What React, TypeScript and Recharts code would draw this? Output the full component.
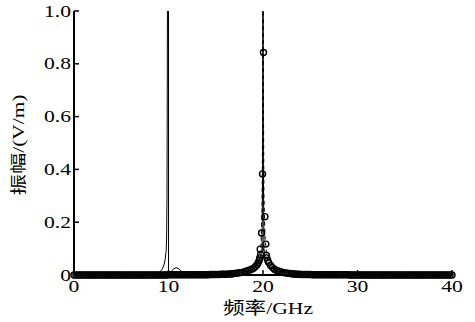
import { ComposedChart, Label, Line, Scatter, XAxis, YAxis } from "recharts";

const SERIF = "'Liberation Serif', 'Times New Roman', serif";
const CJK = "'Liberation Serif', 'Noto Sans CJK SC', serif";

const xTicks = [0, 10, 20, 30, 40];
const yTicks = [0, 0.2, 0.4, 0.6, 0.8, 1.0];
const xTitle = "频率/GHz";
const yTitle = "振幅/(V/m)";

// solid curve: resonance near 10 GHz (and a narrow one at 20)
const solidFreq = [
  0, 2, 4, 6, 8, 8.6, 9.0, 9.3, 9.5, 9.65, 9.75, 9.8, 9.84, 9.87, 9.9, 10.0, 10.0, 10.2, 10.5,
  10.8, 11.1, 11.4, 11.7, 12.5, 14, 16, 17.5, 18.5, 19.3, 19.7, 19.9, 19.96, 20.0, 20.04, 20.1,
  20.3, 20.7, 21.5, 22.5, 24, 27, 30, 35, 40,
];
const solidAmp = [
  0, 0, 0, 0, 0.001, 0.004, 0.01, 0.02, 0.035, 0.06, 0.09, 0.14, 0.3, 0.7, 1.2, 1.2, 0.004, 0.008,
  0.022, 0.028, 0.024, 0.012, 0.005, 0.004, 0.004, 0.005, 0.008, 0.015, 0.03, 0.06, 0.1, 0.4, 1.2,
  0.4, 0.1, 0.05, 0.03, 0.015, 0.008, 0.005, 0.003, 0.002, 0.001, 0,
];

// dashed curve: resonance at 20 GHz
const dashFreq = [
  0, 5, 10, 14, 16, 17.5, 18.5, 19.2, 19.6, 19.8, 19.9, 19.96, 20.0, 20.04, 20.1, 20.2, 20.4,
  20.8, 21.5, 22.5, 24, 27, 30, 35, 40,
];
const dashAmp = [
  0, 0.001, 0.002, 0.003, 0.005, 0.009, 0.016, 0.03, 0.06, 0.12, 0.25, 0.6, 1.2, 0.7, 0.3, 0.15,
  0.07, 0.035, 0.018, 0.01, 0.005, 0.003, 0.002, 0.001, 0,
];

// circle markers
const circleFreq = [
  0, 0.2, 0.4, 0.6, 0.8, 1, 1.2, 1.4, 1.6, 1.8,
  2, 2.2, 2.4, 2.6, 2.8, 3, 3.2, 3.4, 3.6, 3.8,
  4, 4.2, 4.4, 4.6, 4.8, 5, 5.2, 5.4, 5.6, 5.8,
  6, 6.2, 6.4, 6.6, 6.8, 7, 7.2, 7.4, 7.6, 7.8,
  8, 8.2, 8.4, 8.6, 8.8, 9, 9.2, 9.4, 9.6, 9.8,
  10, 10.2, 10.4, 10.6, 10.8, 11, 11.2, 11.4, 11.6, 11.8,
  12, 12.2, 12.4, 12.6, 12.8, 13, 13.2, 13.4, 13.6, 13.8,
  14, 14.2, 14.4, 14.6, 14.8, 15, 15.2, 15.4, 15.6, 15.8,
  16, 16.2, 16.4, 16.6, 16.8, 17, 17.2, 17.4, 17.6, 17.8,
  18, 18.2, 18.4, 18.6, 18.8, 19, 19.2, 19.4, 19.5, 19.6,
  19.65, 19.7, 19.75, 19.85, 19.95, 20.05, 20.2, 20.3, 20.35, 20.4,
  20.5, 20.6, 20.8, 21, 21.2, 21.4, 21.6, 21.8, 22, 22.2,
  22.4, 22.6, 22.8, 23, 23.2, 23.4, 23.6, 23.8, 24, 24.2,
  24.4, 24.6, 24.8, 25, 25.2, 25.4, 25.6, 25.8, 26, 26.2,
  26.4, 26.6, 26.8, 27, 27.2, 27.4, 27.6, 27.8, 28, 28.2,
  28.4, 28.6, 28.8, 29, 29.2, 29.4, 29.6, 29.8, 30, 30.2,
  30.4, 30.6, 30.8, 31, 31.2, 31.4, 31.6, 31.8, 32, 32.2,
  32.4, 32.6, 32.8, 33, 33.2, 33.4, 33.6, 33.8, 34, 34.2,
  34.4, 34.6, 34.8, 35, 35.2, 35.4, 35.6, 35.8, 36, 36.2,
  36.4, 36.6, 36.8, 37, 37.2, 37.4, 37.6, 37.8, 38, 38.2,
  38.4, 38.6, 38.8, 39, 39.2, 39.4, 39.6, 39.8, 40,
];
const circleAmp = [
  0, 0, 0, 0, 0, 0, 0, 0, 0, 0,
  0, 0, 0, 0, 0, 0, 0, 0, 0, 0,
  0, 0, 0, 0, 0, 0, 0, 0, 0, 0,
  0, 0, 0, 0, 0, 0, 0, 0, 0, 0,
  0, 0, 0, 0, 0, 0, 0, 0, 0, 0,
  0.001, 0.001, 0.001, 0.001, 0.001, 0.001, 0.001, 0.001, 0.001, 0.001,
  0.001, 0.001, 0.001, 0.001, 0.001, 0.001, 0.001, 0.001, 0.001, 0.001,
  0.001, 0.001, 0.002, 0.002, 0.002, 0.002, 0.002, 0.002, 0.003, 0.003,
  0.003, 0.003, 0.004, 0.004, 0.005, 0.006, 0.007, 0.008, 0.009, 0.01,
  0.012, 0.014, 0.016, 0.019, 0.022, 0.026, 0.032, 0.04, 0.047, 0.055,
  0.065, 0.098, 0.078, 0.159, 0.383, 0.843, 0.221, 0.117, 0.075, 0.065,
  0.055, 0.047, 0.036, 0.028, 0.022, 0.018, 0.015, 0.013, 0.011, 0.009,
  0.008, 0.007, 0.006, 0.005, 0.004, 0.004, 0.003, 0.003, 0.002, 0.002,
  0.002, 0.002, 0.002, 0.002, 0.001, 0.001, 0.001, 0.001, 0.001, 0.001,
  0.001, 0.001, 0.001, 0.001, 0.001, 0.001, 0.001, 0.001, 0.001, 0.001,
  0.001, 0.001, 0.001, 0.001, 0, 0, 0, 0, 0, 0,
  0, 0, 0, 0, 0, 0, 0, 0, 0, 0,
  0, 0, 0, 0, 0, 0, 0, 0, 0, 0,
  0, 0, 0, 0, 0, 0, 0, 0, 0, 0,
  0, 0, 0, 0, 0, 0, 0, 0, 0, 0,
  0, 0, 0, 0, 0, 0, 0, 0, 0,
];

const toPoints = (f: number[], a: number[]) => f.map((v, i) => ({ f: v, a: a[i] }));

const solidData = toPoints(solidFreq, solidAmp);
const dashData = toPoints(dashFreq, dashAmp);
const circleData = toPoints(circleFreq, circleAmp);

const fmtY = (v: number) => (v === 0 ? "0" : v.toFixed(1));

function BottomTick({ x, y, payload }: any) {
  return (
    <g>
      <line x1={x} y1={y} x2={x} y2={y - 5} stroke="#000" strokeWidth={1.5} />
      <text
        transform={`translate(${x},${y + 11}) scale(1.35,1)`}
        textAnchor="middle"
        dy="0.35em"
        fontSize={16}
        fontFamily={SERIF}
        fill="#000"
      >
        {payload.value}
      </text>
    </g>
  );
}

function LeftTick({ x, y, payload }: any) {
  return (
    <g>
      <line x1={x} y1={y} x2={x + 5} y2={y} stroke="#000" strokeWidth={1.5} />
      <text
        transform={`translate(${x - 3},${y}) scale(1.35,1)`}
        textAnchor="end"
        dy="0.35em"
        fontSize={16}
        fontFamily={SERIF}
        fill="#000"
      >
        {fmtY(payload.value)}
      </text>
    </g>
  );
}

function TopTick({ x, y }: any) {
  return <line x1={x} y1={y} x2={x} y2={y + 5} stroke="#000" strokeWidth={1.5} />;
}

function RightTick({ x, y }: any) {
  return <line x1={x} y1={y} x2={x - 5} y2={y} stroke="#000" strokeWidth={1.5} />;
}

function XTitle({ viewBox }: any) {
  const cx = viewBox.x + viewBox.width / 2 + 5;
  return (
    <text
      x={cx}
      y={viewBox.y + 39}
      textAnchor="middle"
      fontSize={17}
      fontFamily={CJK}
      fill="#000"
      textLength={90}
      lengthAdjust="spacingAndGlyphs"
    >
      {xTitle}
    </text>
  );
}

function YTitle({ viewBox }: any) {
  const cy = viewBox.y + viewBox.height / 2 + 2;
  return (
    <text
      transform={`translate(18,${cy}) rotate(-90)`}
      textAnchor="middle"
      dy="0.35em"
      fontSize={16}
      fontFamily={CJK}
      fill="#000"
      textLength={101}
      lengthAdjust="spacingAndGlyphs"
    >
      {yTitle}
    </text>
  );
}

const Ring = (p: any) => (
  <circle cx={p.cx} cy={p.cy} r={3} fill="none" stroke="#000" strokeWidth={1.4} />
);

export default function App() {
  const axisLine = { stroke: "#000", strokeWidth: 2 };
  return (
    <div style={{ position: "absolute", left: 0, top: 0, background: "#fff" }}>
      <ComposedChart width={475} height={322} margin={{ top: 11, right: 23, bottom: 0, left: 0 }}>
        <XAxis
          dataKey="f"
          type="number"
          domain={[0, 40]}
          ticks={xTicks}
          allowDataOverflow
          height={47}
          axisLine={axisLine}
          tickLine={false}
          tickSize={0}
          tickMargin={0}
          tick={<BottomTick />}
          interval={0}
        >
          <Label content={<XTitle />} />
        </XAxis>
        {/* top/right axes close the box; the markers use them so they are not clipped */}
        <XAxis
          xAxisId="t"
          dataKey="f"
          orientation="top"
          type="number"
          domain={[0, 40]}
          ticks={xTicks}
          height={0}
          axisLine={axisLine}
          tickLine={false}
          tickSize={0}
          tickMargin={0}
          tick={<TopTick />}
          interval={0}
        />
        <YAxis
          type="number"
          domain={[0, 1]}
          ticks={yTicks}
          allowDataOverflow
          width={74}
          axisLine={axisLine}
          tickLine={false}
          tickSize={0}
          tickMargin={0}
          tick={<LeftTick />}
          interval={0}
        >
          <Label content={<YTitle />} />
        </YAxis>
        <YAxis
          yAxisId="r"
          orientation="right"
          type="number"
          domain={[0, 1]}
          ticks={yTicks}
          width={0}
          axisLine={axisLine}
          tickLine={false}
          tickSize={0}
          tickMargin={0}
          tick={<RightTick />}
          interval={0}
        />
        <Line
          data={solidData}
          dataKey="a"
          type="linear"
          stroke="#000"
          strokeWidth={1}
          dot={false}
          activeDot={false}
          isAnimationActive={false}
        />
        <Line
          data={dashData}
          dataKey="a"
          type="linear"
          stroke="#000"
          strokeWidth={1}
          strokeDasharray="4 3"
          dot={false}
          activeDot={false}
          isAnimationActive={false}
        />
        <Scatter
          data={circleData}
          dataKey="a"
          xAxisId="t"
          yAxisId="r"
          shape={Ring}
          isAnimationActive={false}
        />
      </ComposedChart>
    </div>
  );
}
